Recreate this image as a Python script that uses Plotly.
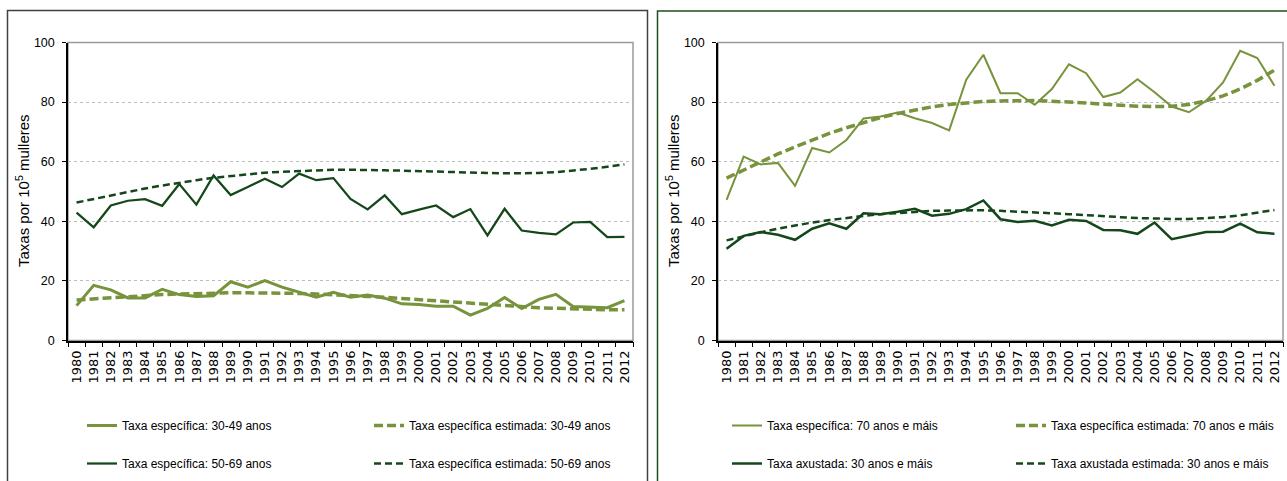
import plotly.graph_objects as go

years = [str(y) for y in range(1980, 2013)]

# Left panel: age-specific rates
taxa_30_49 = [11.7, 18.5, 17.0, 14.3, 14.3, 17.2, 15.4, 14.8, 15.0, 19.7, 17.9, 20.1, 17.9,
              16.3, 14.5, 16.2, 14.5, 15.3, 14.2, 12.3, 12.1, 11.5, 11.5, 8.5, 10.8, 14.4,
              10.7, 13.8, 15.5, 11.4, 11.2, 11.0, 13.4]
est_30_49 = [13.6, 14.0, 14.4, 14.8, 15.1, 15.4, 15.6, 15.8, 15.9, 16.0, 16.0, 16.0, 15.9,
             15.8, 15.6, 15.4, 15.1, 14.8, 14.5, 14.1, 13.7, 13.3, 12.9, 12.5, 12.1, 11.7,
             11.3, 11.0, 10.8, 10.6, 10.4, 10.3, 10.3]
taxa_50_69 = [42.9, 38.0, 45.3, 46.9, 47.4, 45.2, 52.5, 45.6, 55.4, 48.8, 51.5, 54.3, 51.5,
              56.0, 53.8, 54.5, 47.5, 44.0, 48.7, 42.4, 43.9, 45.3, 41.4, 44.1, 35.3, 44.2,
              36.9, 36.1, 35.6, 39.6, 39.8, 34.7, 34.8]
est_50_69 = [46.3, 47.5, 48.7, 49.9, 51.0, 52.0, 53.0, 53.8, 54.6, 55.2, 55.8, 56.3, 56.6,
             56.9, 57.1, 57.3, 57.3, 57.3, 57.1, 57.0, 56.8, 56.7, 56.5, 56.3, 56.2, 56.1,
             56.1, 56.2, 56.5, 57.0, 57.6, 58.3, 59.1]

# Right panel: 70+ specific rate and 30+ adjusted rate
taxa_70 = [47.2, 61.7, 59.1, 59.6, 51.9, 64.6, 63.1, 67.3, 74.5, 75.2, 76.5, 74.6, 73.0,
           70.5, 87.5, 95.9, 83.0, 83.0, 79.1, 84.4, 92.7, 89.7, 81.7, 83.2, 87.7, 83.3,
           78.5, 76.6, 80.4, 86.6, 97.2, 94.8, 85.5]
est_70 = [54.5, 57.3, 60.0, 62.6, 65.0, 67.3, 69.5, 71.4, 73.2, 74.8, 76.2, 77.4, 78.4,
          79.2, 79.8, 80.2, 80.4, 80.5, 80.5, 80.3, 80.1, 79.7, 79.3, 78.9, 78.6, 78.5,
          78.6, 79.2, 80.4, 82.1, 84.4, 87.3, 90.7]
axust_30 = [30.8, 35.1, 36.4, 35.5, 33.8, 37.5, 39.3, 37.5, 42.7, 42.4, 43.2, 44.2, 41.9,
            42.5, 44.1, 47.0, 40.7, 39.8, 40.2, 38.6, 40.5, 40.1, 37.1, 37.0, 35.8, 39.6,
            34.0, 35.1, 36.4, 36.5, 39.2, 36.3, 35.8]
est_axust_30 = [33.6, 35.0, 36.3, 37.5, 38.6, 39.6, 40.4, 41.2, 41.8, 42.4, 42.8, 43.2, 43.5,
                43.6, 43.7, 43.7, 43.5, 43.3, 43.0, 42.7, 42.4, 42.0, 41.7, 41.4, 41.1, 40.9,
                40.8, 40.8, 41.0, 41.4, 42.0, 42.8, 43.8]

LIGHT = "#77933C"
DARK = "#14471A"
W, H = 1287, 481

fig = go.Figure()

def add(y, name, color, width, dash, xa, ya, legend):
    fig.add_trace(go.Scatter(
        x=years, y=y, name=name, mode="lines",
        line=dict(color=color, width=width, dash=dash),
        xaxis=xa, yaxis=ya, legend=legend, legendgroup=name,
    ))

add(taxa_30_49, "Taxa específica: 30-49 anos", LIGHT, 3, "solid", "x", "y", "legend")
add(taxa_50_69, "Taxa específica: 50-69 anos", DARK, 2.25, "solid", "x", "y", "legend")
add(est_30_49, "Taxa específica estimada: 30-49 anos", LIGHT, 3.5, "9px,4px", "x", "y", "legend2")
add(est_50_69, "Taxa específica estimada: 50-69 anos", DARK, 2.5, "7px,4px", "x", "y", "legend2")

add(taxa_70, "Taxa específica: 70 anos e máis", LIGHT, 2, "solid", "x2", "y2", "legend3")
add(axust_30, "Taxa axustada: 30 anos e máis", DARK, 2.5, "solid", "x2", "y2", "legend3")
add(est_70, "Taxa específica estimada: 70 anos e máis", LIGHT, 3.5, "9px,4px", "x2", "y2", "legend4")
add(est_axust_30, "Taxa axustada estimada: 30 anos e máis", DARK, 2.5, "7px,4px", "x2", "y2", "legend4")

ydom = [1 - 340.5 / H, 1 - 42.5 / H]
xdom_left = [68 / W, 633 / W]
xdom_right = [718 / W, 1283 / W]

tick_font = dict(family="DejaVu Sans", size=13, color="#000000")
ytick_font = dict(family="Liberation Sans", size=12.5, color="#000000")

def xaxis(domain, anchor):
    return dict(
        domain=domain, anchor=anchor, type="category",
        range=[-0.5, len(years) - 0.5], tickson="boundaries",
        ticks="outside", ticklen=5, tickcolor="#000000", tickwidth=1,
        tickangle=-90, tickfont=tick_font, ticklabelstandoff=3,
        showline=True, linecolor="#000000", linewidth=1.5,
        showgrid=False, zeroline=False, fixedrange=True,
    )

def yaxis(anchor):
    return dict(
        domain=ydom, anchor=anchor, range=[0, 100], dtick=20,
        ticks="outside", ticklen=4, tickcolor="#000000", tickwidth=1,
        tickfont=ytick_font, ticklabelstandoff=5,
        showline=True, linecolor="#000000", linewidth=1.5,
        showgrid=True, gridcolor="#BDBDBD", gridwidth=1, griddash="dot",
        zeroline=False, fixedrange=True,
    )

leg_common = dict(
    orientation="v", traceorder="grouped", tracegroupgap=19,
    font=dict(family="Liberation Sans", size=12, color="#000000"),
    bgcolor="rgba(0,0,0,0)", borderwidth=0, itemwidth=30,
    xanchor="left", yanchor="top",
)
leg_y = 1 - 411 / H

fig.update_layout(
    width=W, height=H, autosize=False,
    margin=dict(l=0, r=0, t=0, b=0, autoexpand=False),
    paper_bgcolor="#FFFFFF", plot_bgcolor="#FFFFFF",
    xaxis=xaxis(xdom_left, "y"), yaxis=yaxis("x"),
    xaxis2=xaxis(xdom_right, "y2"), yaxis2=yaxis("x2"),
    legend=dict(leg_common, x=82 / W, y=leg_y),
    legend2=dict(leg_common, x=369 / W, y=leg_y),
    legend3=dict(leg_common, x=727 / W, y=leg_y),
    legend4=dict(leg_common, x=1011 / W, y=leg_y),
    showlegend=True,
)

# Panel frames and plot-area borders
fig.add_shape(type="rect", xref="paper", yref="paper",
              x0=7.5 / W, x1=647.5 / W, y0=-0.05, y1=1 - 10.5 / H,
              line=dict(color="#404040", width=1.5), layer="below")
fig.add_shape(type="rect", xref="paper", yref="paper",
              x0=657.5 / W, x1=1.02, y0=-0.05, y1=1 - 11 / H,
              line=dict(color="#1E4D1E", width=1.5), layer="below")
for xr, yr in (("x domain", "y domain"), ("x2 domain", "y2 domain")):
    fig.add_shape(type="rect", xref=xr, yref=yr, x0=0, x1=1, y0=0, y1=1,
                  line=dict(color="#9A9A9A", width=1.5), layer="below")

# Y-axis titles
for xpos in (22 / W, 672 / W):
    fig.add_annotation(
        x=xpos, y=1 - 191 / H, xref="paper", yref="paper",
        text="Taxas por 10<sup>5</sup> mulleres", textangle=-90, showarrow=False,
        font=dict(family="Liberation Sans", size=15, color="#000000"),
        xanchor="center", yanchor="middle",
    )

fig.write_html("out.html")
